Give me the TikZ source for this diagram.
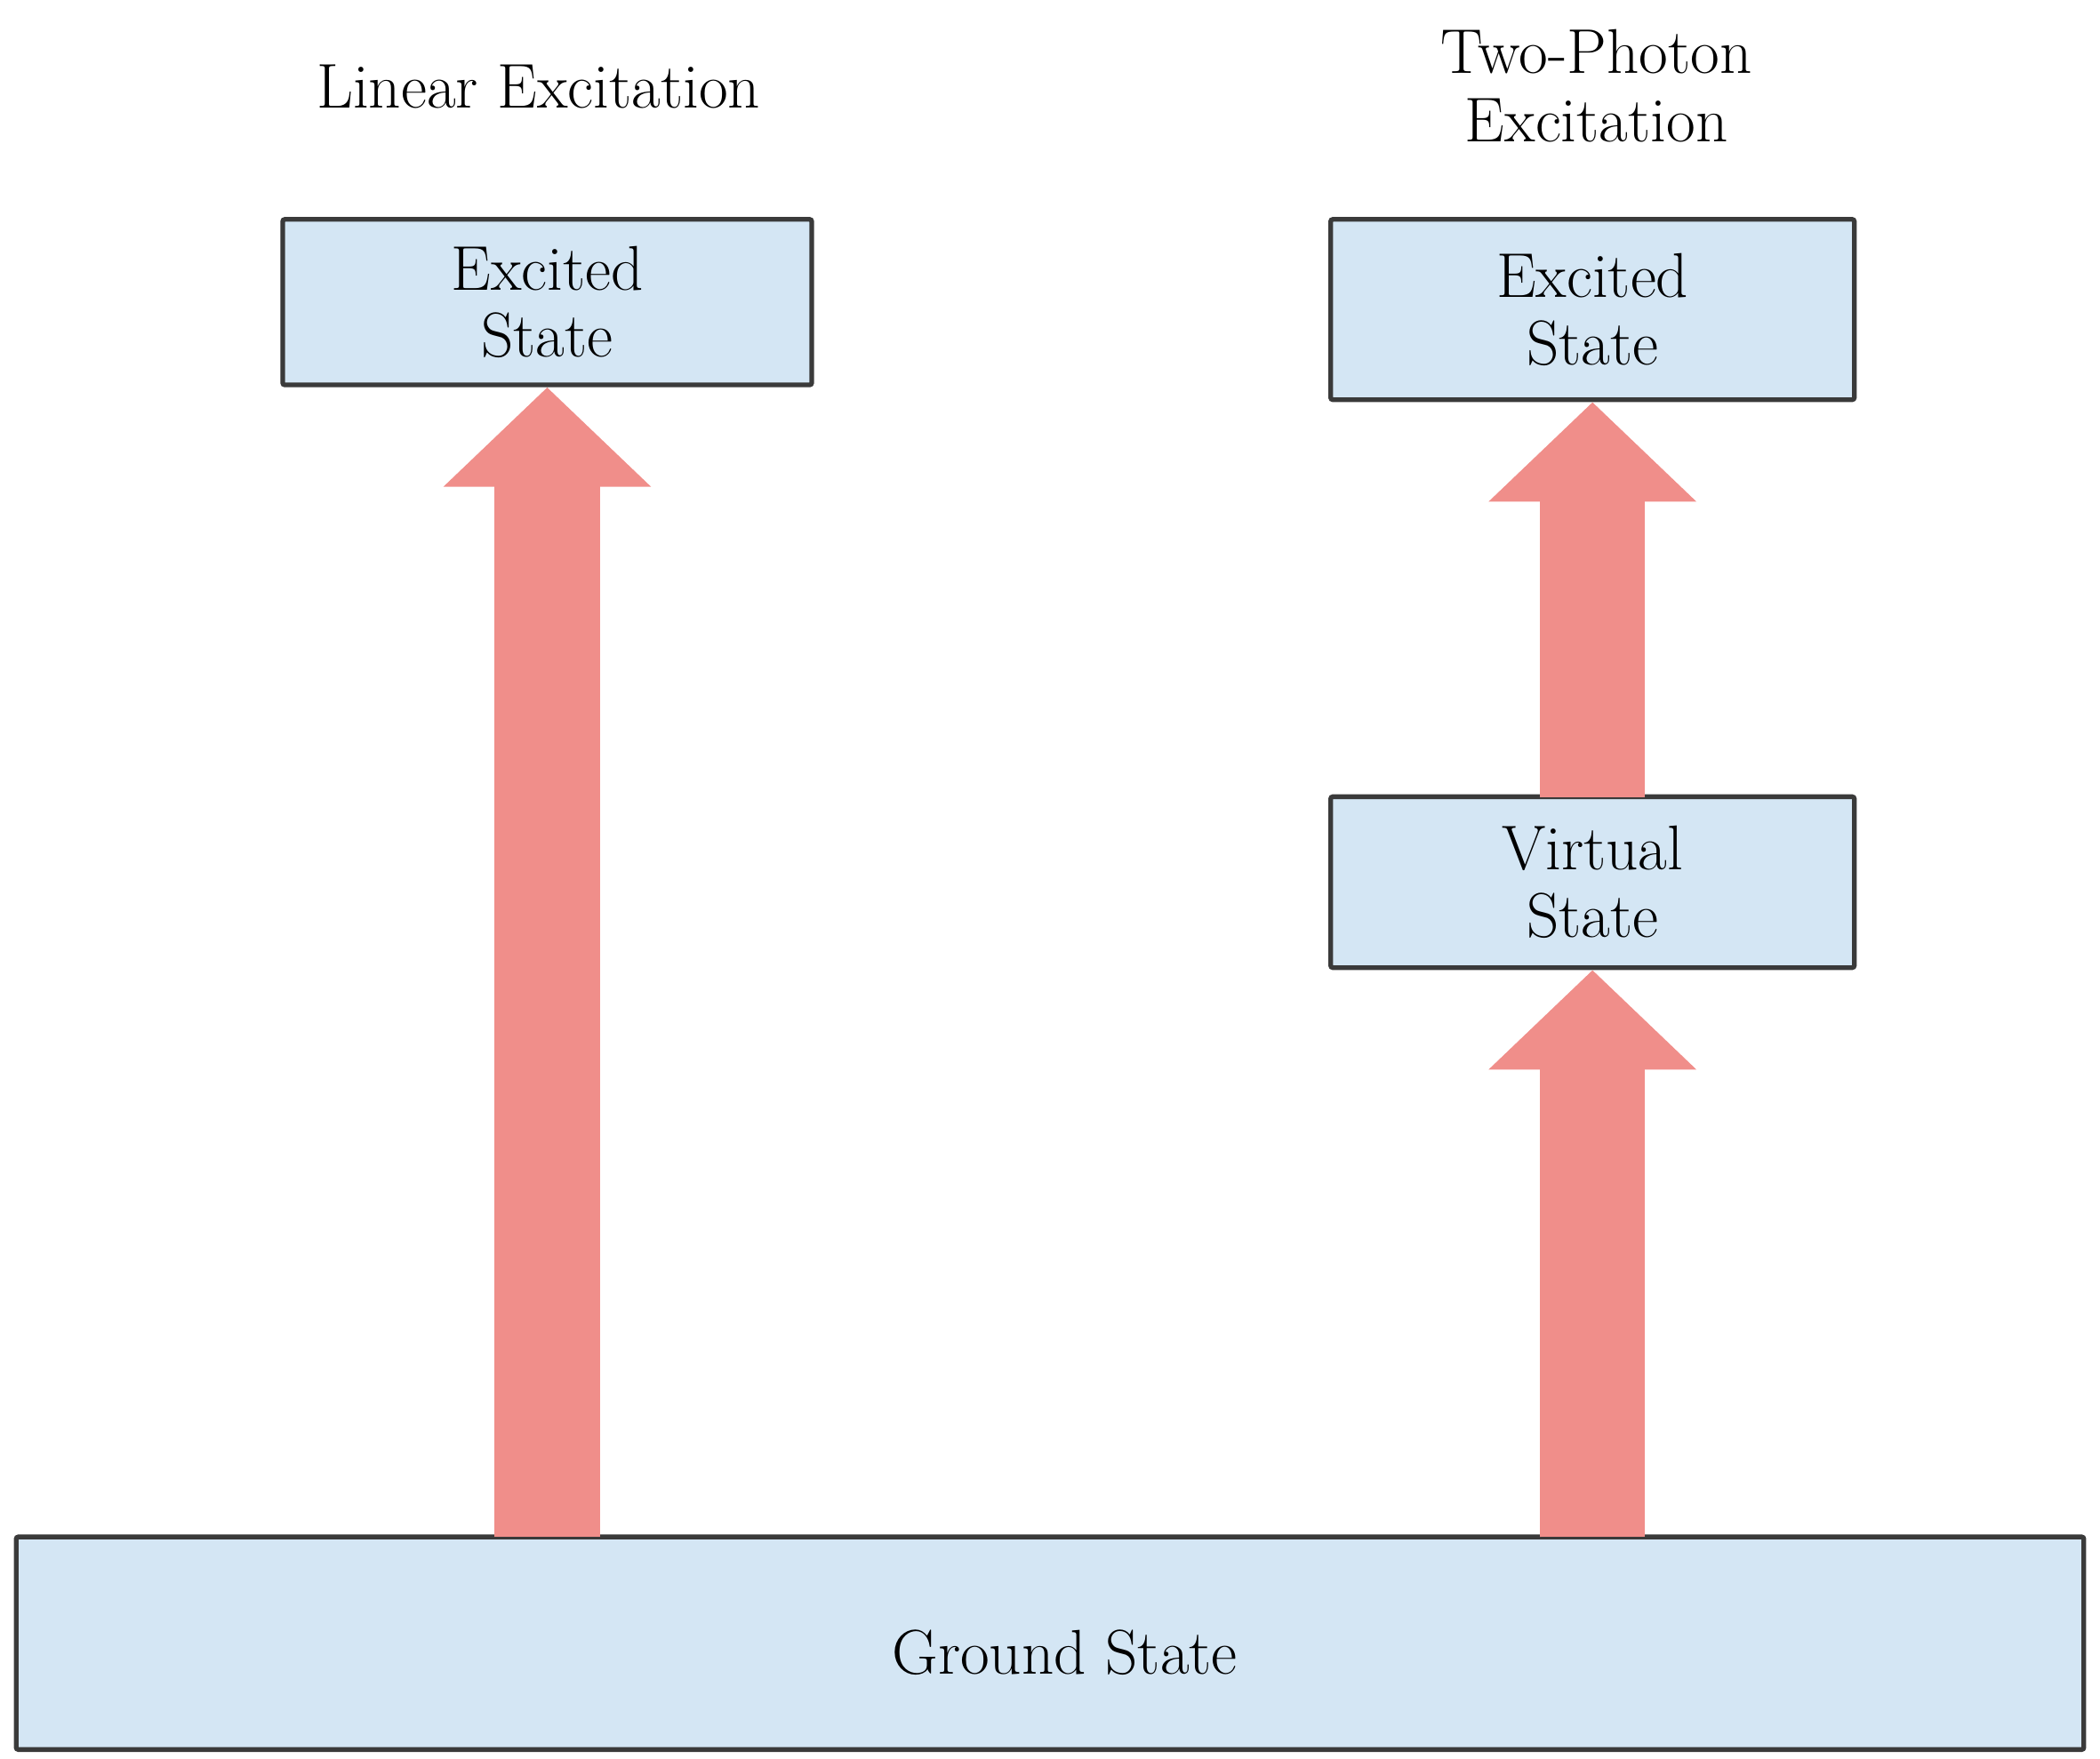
\documentclass[tikz,border=0pt]{standalone}
\usetikzlibrary{arrows.meta}
\definecolor{boxfill}{RGB}{212,230,244}
\definecolor{boxline}{RGB}{58,58,58}
\definecolor{arrowred}{RGB}{240,142,138}
\begin{document}
\begin{tikzpicture}[
  statebox/.style={draw=boxline, line width=1.75pt, fill=boxfill, rounded corners=0.8pt,
    align=center, font=\fontsize{23.5}{25}\selectfont, inner sep=0pt},
  title/.style={align=center, font=\fontsize{23.5}{25.5}\selectfont, inner sep=0pt},
  photon/.style={draw=arrowred, line width=39pt,
    -{Triangle[length=37pt, width=75pt, fill=arrowred]}}
]
\useasboundingbox (0,0) rectangle (780pt,-653.5pt);
% titles
\node[title, anchor=base] (tlin) at (200pt,-40pt) {Linear Excitation};
\node[title] (ttwo) at (593pt,-32pt) {Two-Photon\\Excitation};
% states
\node[statebox, minimum width=196.5pt, minimum height=61.5pt] (exL) at (203.25pt,-112.25pt) {Excited\\State};
\node[statebox, minimum width=194.5pt, minimum height=67pt] (exR) at (591.5pt,-115pt) {Excited\\State};
\node[statebox, minimum width=194.5pt, minimum height=63.5pt] (virt) at (591.5pt,-327.75pt) {Virtual\\State};
\node[statebox, minimum width=768pt, minimum height=79pt] (ground) at (390pt,-610.5pt) {};
\node[title] (glab) at (395.5pt,-614pt) {Ground State};
% arrows
\draw[photon] ([yshift=-1pt]exL.south |- ground.north) -- (exL.south);
\draw[photon] ([yshift=-1pt]virt.south |- ground.north) -- (virt.south);
\draw[photon] ([yshift=-1pt]virt.north) -- (exR.south);
\end{tikzpicture}
\end{document}
